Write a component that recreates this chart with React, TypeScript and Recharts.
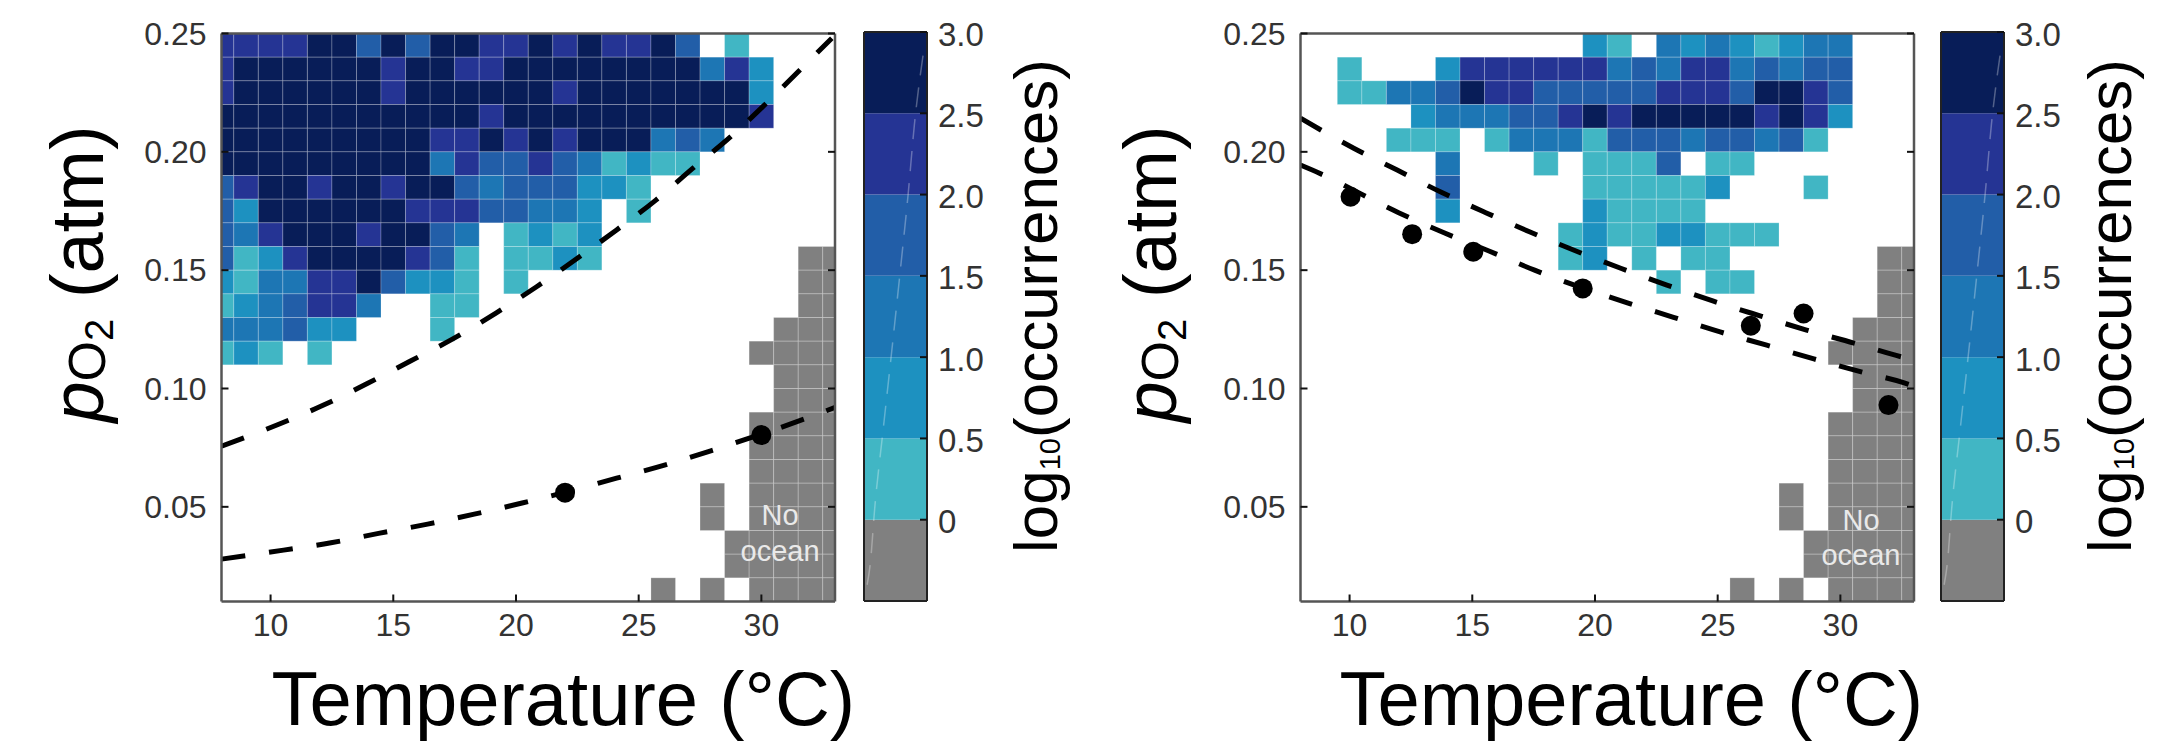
import {
  ComposedChart,
  Line,
  Scatter,
  XAxis,
  YAxis,
  ReferenceArea,
  ReferenceDot,
  Label,
} from "recharts";

const font = "'Liberation Sans', Arial, sans-serif";

// one colour per bin: 0 = no ocean, 1..6 = log10(occurrences) bands
const levelColors = ["#808080", "#41B6C4", "#1D91C0", "#1D76B4", "#225EA8", "#253494", "#081D58"];
const colorbarEdges = [-0.5, 0, 0.5, 1, 1.5, 2, 2.5, 3];
const colorbarTicks = [0, 0.5, 1, 1.5, 2, 2.5, 3];
const colorbarStreak = [
  { t: 0.05, v: -0.4 },
  { t: 0.1, v: -0.27 },
  { t: 0.17, v: 0.07 },
  { t: 0.3, v: 0.54 },
  { t: 0.43, v: 1.0 },
  { t: 0.57, v: 1.51 },
  { t: 0.7, v: 2.0 },
  { t: 0.8, v: 2.43 },
  { t: 0.95, v: 2.89 },
];

const xTicks = [10, 15, 20, 25, 30];
const yTicks = [0.05, 0.1, 0.15, 0.2, 0.25];
const firstTemp = 8; // first character of each row, one per degree up to 33

// rows from 0.24-0.25 atm down to 0.01-0.02 atm
const leftRows = [
  "5555664646" + "6556565564" + ".1....",
  "5666666566" + "5566666666" + "352...",
  "5666666566" + "6666566666" + "662...",
  "6666666666" + "6566666666" + "665...",
  "6666666665" + "5656566634" + "3.....",
  "6666666663" + "5445431211" + "......",
  "4566566566" + "43444221.." + "......",
  "4266666655" + "544332.1.." + "......",
  "4356665664" + "3.1212...." + "......",
  "4125666654" + "1.1121...." + "....00",
  "2133556422" + "1.1......." + "....00",
  "1234553..1" + "1........." + "....00",
  "333422...1" + ".........." + "...000",
  "121.1....." + ".........." + "..0000",
  ".........." + ".........." + "...000",
  ".........." + ".........." + "...000",
  ".........." + ".........." + "..0000",
  ".........." + ".........." + "..0000",
  ".........." + ".........." + "..0000",
  ".........." + ".........." + "0.0000",
  ".........." + ".........." + "0.0000",
  ".........." + ".........." + ".00000",
  ".........." + ".........." + ".00000",
  ".........." + "........0." + "0.0000",
];

const rightRows = [
  ".........." + "..21.32321" + "233...",
  "..1...2555" + "5553435534" + "344...",
  "..11334655" + "4444455546" + "654...",
  ".....23334" + "4565666665" + "652...",
  "....111.13" + "3314443443" + "41....",
  "......3..." + "1.1114.11." + "......",
  "......4..." + "..111112.." + ".1....",
  "......2..." + "..21111..." + "......",
  ".........." + ".121122111" + "......",
  ".........." + ".12.1.11.." + "....00",
  ".........." + ".....1.11." + "....00",
  ".........." + ".........." + "....00",
  ".........." + ".........." + "...000",
  ".........." + ".........." + "..0000",
  ".........." + ".........." + "...000",
  ".........." + ".........." + "...000",
  ".........." + ".........." + "..0000",
  ".........." + ".........." + "..0000",
  ".........." + ".........." + "..0000",
  ".........." + ".........." + "0.0000",
  ".........." + ".........." + "0.0000",
  ".........." + ".........." + ".00000",
  ".........." + ".........." + ".00000",
  ".........." + "........0." + "0.0000",
];

const leftUpperCurve = [
  { t: 8, v: 0.0756 },
  { t: 10.36, v: 0.085 },
  { t: 12.16, v: 0.093 },
  { t: 13.96, v: 0.1022 },
  { t: 15.7, v: 0.1116 },
  { t: 17.5, v: 0.1214 },
  { t: 19.2, v: 0.132 },
  { t: 20.84, v: 0.143 },
  { t: 22.5, v: 0.155 },
  { t: 24.1, v: 0.167 },
  { t: 25.7, v: 0.1796 },
  { t: 27.2, v: 0.193 },
  { t: 28.75, v: 0.2064 },
  { t: 30.2, v: 0.2205 },
  { t: 31.64, v: 0.2353 },
  { t: 32.87, v: 0.248 },
];

const leftLowerCurve = [
  { t: 8, v: 0.0279 },
  { t: 10.53, v: 0.0317 },
  { t: 12.46, v: 0.0348 },
  { t: 14.4, v: 0.0388 },
  { t: 16.4, v: 0.0427 },
  { t: 18.3, v: 0.0469 },
  { t: 20.25, v: 0.0516 },
  { t: 21.94, v: 0.056 },
  { t: 24.1, v: 0.0621 },
  { t: 26.05, v: 0.0676 },
  { t: 28, v: 0.0739 },
  { t: 29.88, v: 0.0803 },
  { t: 31.75, v: 0.0871 },
  { t: 33, v: 0.092 },
];

const leftPoints = [
  { t: 22, v: 0.056 },
  { t: 30, v: 0.0803 },
];

const rightUpperCurve = [
  { t: 8, v: 0.2142 },
  { t: 10.17, v: 0.2015 },
  { t: 11.94, v: 0.1923 },
  { t: 13.74, v: 0.1829 },
  { t: 15.55, v: 0.1743 },
  { t: 17.38, v: 0.166 },
  { t: 19.2, v: 0.1582 },
  { t: 21.05, v: 0.1508 },
  { t: 22.93, v: 0.1437 },
  { t: 24.83, v: 0.1369 },
  { t: 26.76, v: 0.1306 },
  { t: 28.62, v: 0.1247 },
  { t: 30.55, v: 0.1192 },
  { t: 32.47, v: 0.1134 },
  { t: 33, v: 0.112 },
];

const rightLowerCurve = [
  { t: 8, v: 0.1944 },
  { t: 8.48, v: 0.1923 },
  { t: 12, v: 0.1743 },
  { t: 13.85, v: 0.1658 },
  { t: 15.68, v: 0.1581 },
  { t: 17.54, v: 0.15 },
  { t: 21.32, v: 0.1362 },
  { t: 23.2, v: 0.1301 },
  { t: 25.1, v: 0.1239 },
  { t: 27, v: 0.1183 },
  { t: 28.92, v: 0.1125 },
  { t: 30.85, v: 0.107 },
  { t: 32.6, v: 0.1024 },
  { t: 33, v: 0.101 },
];

const rightPoints = [
  { t: 10.04, v: 0.181 },
  { t: 12.55, v: 0.1652 },
  { t: 15.04, v: 0.1578 },
  { t: 19.5, v: 0.1423 },
  { t: 26.35, v: 0.1265 },
  { t: 28.5, v: 0.1317 },
  { t: 31.96, v: 0.093 },
];

function cellsFrom(rows: string[]) {
  const cells: { t: number; low: number; level: number }[] = [];
  rows.forEach((row, r) => {
    row.split("").forEach((ch, c) => {
      if (ch !== ".") cells.push({ t: firstTemp + c, low: Math.round(24 - r) / 100, level: Number(ch) });
    });
  });
  return cells;
}

const frame = "#555";
const tickInk = "#111";
const labelInk = "#333";

function bottomTick({ x, y, payload }: any) {
  return (
    <g>
      <line x1={x} x2={x} y1={y} y2={y - 7} stroke={tickInk} strokeWidth={2} />
      <text x={x} y={y + 34} textAnchor="middle" fontSize={32} fontFamily={font} fill={labelInk}>
        {payload.value}
      </text>
    </g>
  );
}

function leftTick({ x, y, payload }: any) {
  return (
    <g>
      <line x1={x} x2={x + 7} y1={y} y2={y} stroke={tickInk} strokeWidth={2} />
      <text x={x - 15} y={y + 11} textAnchor="end" fontSize={32} fontFamily={font} fill={labelInk}>
        {payload.value.toFixed(2)}
      </text>
    </g>
  );
}

function topTick({ x, y }: any) {
  return <line x1={x} x2={x} y1={y} y2={y + 7} stroke={tickInk} strokeWidth={2} />;
}

function rightTick({ x, y }: any) {
  return <line x1={x} x2={x - 7} y1={y} y2={y} stroke={tickInk} strokeWidth={2} />;
}

function Panel({ left, rows, curves, points, noOcean, ocean, titleShift, yTitleX }: any) {
  const cells = cellsFrom(rows);
  return (
    <div style={{ position: "absolute", left, top: 0 }}>
      <ComposedChart
        width={860}
        height={741}
        margin={{ top: 32.5, right: 24, bottom: 0, left: 101.5 }}
      >
        <XAxis
          dataKey="t"
          type="number"
          domain={[8, 33]}
          ticks={xTicks}
          allowDataOverflow
          height={139.5}
          tickSize={0}
          tickMargin={0}
          tick={bottomTick}
          interval={0}
          axisLine={{ stroke: frame, strokeWidth: 2.5 }}
          tickLine={false}
        >
          <Label
            content={({ viewBox }: any) => (
              <text
                x={viewBox.x + viewBox.width / 2 + titleShift}
                y={viewBox.y + 123.5}
                textAnchor="middle"
                fontSize={76}
                fontFamily={font}
                fill="#000"
              >
                Temperature (°C)
              </text>
            )}
          />
        </XAxis>
        <XAxis
          xAxisId="top"
          orientation="top"
          type="number"
          domain={[8, 33]}
          ticks={xTicks}
          allowDataOverflow
          height={1}
          tickSize={0}
          tickMargin={0}
          tick={topTick}
          interval={0}
          axisLine={{ stroke: frame, strokeWidth: 2.5 }}
          tickLine={false}
        />
        <YAxis
          dataKey="v"
          type="number"
          domain={[0.01, 0.25]}
          ticks={yTicks}
          allowDataOverflow
          width={120}
          tickSize={0}
          tickMargin={0}
          tick={leftTick}
          interval={0}
          axisLine={{ stroke: frame, strokeWidth: 2.5 }}
          tickLine={false}
        >
          <Label
            content={() => (
              <text
                x={yTitleX}
                y={274}
                transform={`rotate(-90 ${yTitleX} 274)`}
                textAnchor="middle"
                fontSize={74}
                fontFamily={font}
                fill="#000"
              >
                <tspan fontStyle="italic">p</tspan>
                <tspan fontSize={52} dy={2}>O</tspan>
                <tspan fontSize={40} dy={8}>2</tspan>
                <tspan dy={-10}> (atm)</tspan>
              </text>
            )}
          />
        </YAxis>
        <YAxis
          yAxisId="right"
          orientation="right"
          type="number"
          domain={[0.01, 0.25]}
          ticks={yTicks}
          allowDataOverflow
          width={1}
          tickSize={0}
          tickMargin={0}
          tick={rightTick}
          interval={0}
          axisLine={{ stroke: frame, strokeWidth: 2.5 }}
          tickLine={false}
        />

        {cells.map((c) => (
          <ReferenceArea
            key={`${c.t}-${c.low}`}
            x1={Math.max(8, c.t - 0.5)}
            x2={Math.min(33, c.t + 0.5)}
            y1={c.low}
            y2={c.low + 0.01}
            fill={levelColors[c.level]}
            fillOpacity={1}
            stroke="rgba(255,255,255,0.22)"
            strokeWidth={1}
            ifOverflow="visible"
          />
        ))}

        {curves.map((curve: any, i: number) => (
          <Line
            key={i}
            data={curve}
            dataKey="v"
            type="monotone"
            stroke="#000"
            strokeWidth={5}
            strokeDasharray="24 24"
            dot={false}
            activeDot={false}
            isAnimationActive={false}
          />
        ))}

        <Scatter
          data={points}
          dataKey="v"
          isAnimationActive={false}
          shape={(p: any) => <circle cx={p.cx} cy={p.cy} r={10} fill="#000" />}
        />

        <ReferenceDot
          x={noOcean.t}
          y={noOcean.v}
          r={0}
          stroke="none"
          fill="none"
          label={{ value: "No", fill: "#e9e9e9", fontSize: 29, fontFamily: font, position: "center" }}
        />
        <ReferenceDot
          x={ocean.t}
          y={ocean.v}
          r={0}
          stroke="none"
          fill="none"
          label={{ value: "ocean", fill: "#e9e9e9", fontSize: 29, fontFamily: font, position: "center" }}
        />
      </ComposedChart>
    </div>
  );
}

function colorbarLabelTick({ x, y, payload }: any) {
  return (
    <g>
      <line x1={x} x2={x - 7} y1={y} y2={y} stroke={tickInk} strokeWidth={2} />
      <text x={x + 11} y={y + 13.5} fontSize={33} fontFamily={font} fill={labelInk}>
        {payload.value === 0 ? "0" : payload.value.toFixed(1)}
      </text>
    </g>
  );
}

function Colorbar({ left, titleX }: any) {
  const barFrame = "#222";
  return (
    <div style={{ position: "absolute", left, top: 0 }}>
      <ComposedChart width={260} height={741} margin={{ top: 31, right: 0, bottom: 0, left: 0 }}>
        <XAxis
          dataKey="t"
          type="number"
          domain={[0, 1]}
          ticks={[]}
          allowDataOverflow
          height={140}
          tickLine={false}
          tick={false}
          axisLine={{ stroke: barFrame, strokeWidth: 2 }}
        />
        <XAxis
          xAxisId="top"
          orientation="top"
          type="number"
          domain={[0, 1]}
          ticks={[]}
          allowDataOverflow
          height={1}
          tickLine={false}
          tick={false}
          axisLine={{ stroke: barFrame, strokeWidth: 2 }}
        />
        <YAxis
          dataKey="v"
          type="number"
          domain={[-0.5, 3]}
          ticks={[]}
          allowDataOverflow
          width={24}
          tickLine={false}
          tick={false}
          axisLine={{ stroke: barFrame, strokeWidth: 2 }}
        />
        <YAxis
          yAxisId="right"
          orientation="right"
          type="number"
          domain={[-0.5, 3]}
          ticks={colorbarTicks}
          allowDataOverflow
          interval={0}
          width={173}
          tickSize={0}
          tickMargin={0}
          tick={colorbarLabelTick}
          tickLine={false}
          axisLine={{ stroke: barFrame, strokeWidth: 2 }}
        >
          <Label
            content={() => (
              <text
                x={titleX}
                y={306}
                transform={`rotate(-90 ${titleX} 306)`}
                textAnchor="middle"
                fontSize={62}
                fontFamily={font}
                fill="#000"
              >
                log
                <tspan fontSize={29} dy={3}>10</tspan>
                <tspan dy={-3}>(occurrences)</tspan>
              </text>
            )}
          />
        </YAxis>

        {levelColors.map((color, i) => (
          <ReferenceArea
            key={color}
            x1={0}
            x2={1}
            y1={colorbarEdges[i]}
            y2={colorbarEdges[i + 1]}
            fill={color}
            fillOpacity={1}
            stroke="none"
            ifOverflow="visible"
          />
        ))}

        <Line
          data={colorbarStreak}
          dataKey="v"
          type="monotone"
          stroke="rgba(255,255,255,0.3)"
          strokeWidth={1.5}
          strokeDasharray="20 12"
          dot={false}
          activeDot={false}
          isAnimationActive={false}
        />
      </ComposedChart>
    </div>
  );
}

export default function App() {
  return (
    <div style={{ position: "absolute", left: 0, top: 0, width: 2157, height: 741, background: "#fff", overflow: "hidden" }}>
      <Panel
        left={0}
        rows={leftRows}
        curves={[leftUpperCurve, leftLowerCurve]}
        points={leftPoints}
        noOcean={{ t: 30.76, v: 0.0465 }}
        ocean={{ t: 30.76, v: 0.0313 }}
        titleShift={35}
        yTitleX={103}
      />
      <Colorbar left={840} titleX={217} />
      <Panel
        left={1078.5}
        rows={rightRows}
        curves={[rightUpperCurve, rightLowerCurve]}
        points={rightPoints}
        noOcean={{ t: 30.84, v: 0.0444 }}
        ocean={{ t: 30.84, v: 0.0296 }}
        titleShift={24}
        yTitleX={97}
      />
      <Colorbar left={1916.7} titleX={214.3} />
    </div>
  );
}
